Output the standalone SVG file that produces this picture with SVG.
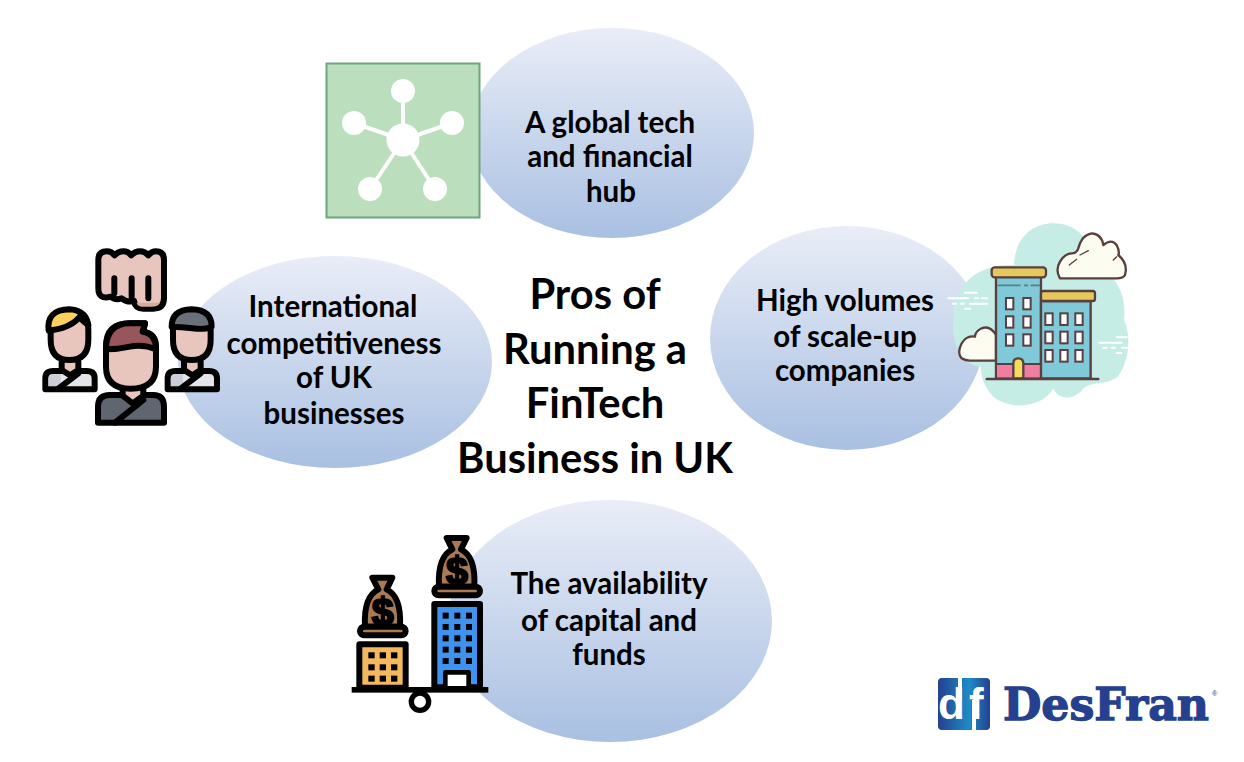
<svg xmlns="http://www.w3.org/2000/svg" width="1244" height="762" viewBox="0 0 1244 762">
<style>
.e{fill:url(#g)}
.t{font-family:"Lato","Carlito","Open Sans",sans-serif;font-weight:700;font-size:29.5px;fill:#000;text-anchor:middle}
.h{font-size:41.7px}
.k{stroke:#000;stroke-width:18;stroke-linejoin:round;stroke-linecap:round}
.n{fill:none}
.b{stroke:#5a3f3f;stroke-width:7;stroke-linejoin:round;stroke-linecap:round}
.w{fill:#fff;stroke:#5a3f3f;stroke-width:6}
.d{stroke:#fff;stroke-width:6;stroke-linecap:round;fill:none}
.sk{fill:#e8c6bd}
.m{fill:#000}
.bag{fill:#a97a55}
.usd{font-family:"Liberation Sans",sans-serif;font-weight:700;font-size:118px;fill:#000;stroke:#000;stroke-width:6;text-anchor:middle}
</style>
<defs>
<linearGradient id="g" x1="0" y1="0" x2="0" y2="1"><stop offset="0" stop-color="#e9edf7"/><stop offset="1" stop-color="#a9c0e2"/></linearGradient>
<linearGradient id="lg" x1="0" y1="0" x2="1" y2="0"><stop offset="0" stop-color="#25408f"/><stop offset="0.6" stop-color="#1d8cc8"/><stop offset="1" stop-color="#25408f"/></linearGradient>
<g id="person">
<path class="k" fill="#e3e5ea" d="M76 478V445Q76 423 100 423H200Q224 423 224 445V478Z"/>
<path fill="#c9ced7" d="M86 468V445Q86 433 100 433H122V468Z"/>
<path class="sk" d="M125 395H175V420L150 436L125 420Z"/>
<path class="k n" d="M125 395V420L150 436L175 420V395M115 476L175 430"/>
<path class="sk k" d="M92 300Q92 240 148 240Q205 240 205 300V330Q205 390 148 390Q92 390 92 330Z"/>
</g>
</defs>

<g id="connectors"></g>

<g id="node-top">
<ellipse class="e" cx="612" cy="133" rx="142" ry="105"/>
<rect x="326.500" y="63.500" width="153" height="154" fill="#bbdebc" stroke="#6fa67f" stroke-width="2"/>
<g stroke="#fff" stroke-width="4"><path d="M403 140V91M403 140L354 123M403 140L452 123M403 140L370 189M403 140L435 189"/></g>
<g fill="#fff"><circle cx="403" cy="140" r="16.500"/><circle cx="403" cy="91" r="12"/><circle cx="354" cy="123" r="12"/><circle cx="452" cy="123" r="12"/><circle cx="370" cy="189" r="12"/><circle cx="435" cy="189" r="12"/></g>
<text class="t" x="610" y="133">A global tech</text>
<text class="t" x="610" y="167">and financial</text>
<text class="t" x="611" y="202">hub</text>
</g>

<g id="node-left">
<ellipse class="e" cx="335" cy="362" rx="157" ry="106"/>
<g transform="translate(20 230) scale(.3333)">
<path class="sk k" d="M235 90Q235 64 260 64Q275 64 284 76Q295 64 310 64Q325 64 334 76Q345 64 360 64Q375 64 385 76Q395 64 408 64Q432 64 432 90V205Q432 236 400 236H370Q345 236 342 212Q325 220 305 205Q285 212 272 200Q235 210 235 175Z"/>
<path class="k n" d="M283 145V190M335 145V200M385 145V205"/>
<path fill="#d9a8a0" d="M350 218H420Q415 230 395 230H365Q352 228 350 218Z"/>
<use href="#person"/>
<path class="k" fill="#fdd25c" d="M86 302Q78 240 148 238Q195 240 205 285Q190 275 178 262Q150 295 86 302Z"/>
<g transform="translate(367 0)"><use href="#person"/>
<path class="k" fill="#6a7079" d="M88 290Q88 240 148 238Q208 240 208 290Q190 300 150 295Q115 290 88 290Z"/></g>
<path class="k" fill="#5f6670" d="M234 578V530Q234 495 270 495H400Q432 495 432 530V578Z"/>
<path class="sk" d="M308 470H370V500L338 520L308 500Z"/>
<path class="k n" d="M308 470V497L338 520L370 497V470M285 578L370 510"/>
<path class="sk k" d="M258 350Q258 280 330 280H375L370 305Q408 310 408 350V410Q408 476 332 476Q258 476 258 410Z"/>
<path class="k" fill="#97565a" d="M258 358Q258 280 330 280H375L368 305Q408 310 408 358Q370 342 330 350Q295 358 258 358Z"/>
</g>
<text class="t" x="333" y="317">International</text>
<text class="t" x="334" y="354">competitiveness</text>
<text class="t" x="334" y="388">of UK</text>
<text class="t" x="334" y="424">businesses</text>
</g>

<g id="node-right">
<ellipse class="e" cx="847" cy="338" rx="137" ry="112"/>
<g transform="translate(940 220) scale(.3333)">
<path fill="#c5ede5" d="M222 135C225 50 280 10 340 10C410 10 455 60 465 135C535 170 560 230 552 300C572 340 572 420 532 472C490 500 450 480 425 512C390 545 350 535 340 505C310 560 220 575 160 530C130 500 125 470 122 442C55 430 28 350 42 280C40 220 90 130 222 135Z"/>
<path class="d" d="M75 218H110M25 235H85M105 235H115M125 235H142M38 251H48M62 251H72M90 251H142M75 266H90M530 352H560M478 368H545M490 383H500M515 383H525M545 383H562M530 399H545"/>
<path class="b" fill="#fdfcf0" d="M360 175Q345 150 360 125Q375 100 395 100Q410 100 415 85Q425 45 455 40Q485 42 490 75Q515 55 530 75Q540 95 535 105Q565 130 555 165Q550 175 530 175Z"/>
<path class="b n" style="stroke-width:4" d="M388 135L410 118M420 105L445 92M520 120L530 110"/>
<path class="b" fill="#fdfcf0" d="M168 345Q150 315 125 325Q105 335 105 350Q80 345 65 370Q50 400 65 415Q75 422 90 422H168Z"/>
<rect class="b" x="168" y="170" width="135" height="305" fill="#7fc9d8"/>
<rect x="172" y="432" width="128" height="40" fill="#ef7fa0"/>
<path stroke="#5a3f3f" stroke-width="6" d="M170 432H300"/>
<path stroke="#5a7f88" stroke-width="5" stroke-dasharray="70 10 12 8" fill="none" d="M172 196H300"/>
<rect class="b" x="303" y="243" width="149" height="232" fill="#7fc9d8"/>
<rect class="b" x="155" y="142" width="163" height="30" rx="9" fill="#e6c95b"/>
<rect class="b" x="303" y="213" width="162" height="30" rx="7" fill="#e6c95b"/>
<g class="wins">
<rect class="w" x="198" y="234" width="22" height="34"/><rect class="w" x="250" y="234" width="22" height="34"/>
<rect class="w" x="198" y="289" width="22" height="34"/><rect class="w" x="250" y="289" width="22" height="34"/>
<rect class="w" x="198" y="343" width="22" height="34"/><rect class="w" x="250" y="343" width="22" height="34"/>
<rect class="w" x="316" y="280" width="22" height="35"/><rect class="w" x="361" y="280" width="22" height="35"/><rect class="w" x="406" y="280" width="22" height="35"/>
<rect class="w" x="316" y="335" width="22" height="35"/><rect class="w" x="361" y="335" width="22" height="35"/><rect class="w" x="406" y="335" width="22" height="35"/>
<rect class="w" x="316" y="390" width="22" height="35"/><rect class="w" x="361" y="390" width="22" height="35"/><rect class="w" x="406" y="390" width="22" height="35"/>
</g>
<path class="b" fill="#f4db5b" d="M220 475V430Q220 415 235 415Q250 415 250 430V475Z"/>
<path class="b n" d="M140 477H475"/>
</g>
<text class="t" x="845" y="311">High volumes</text>
<text class="t" x="845" y="347">of scale-up</text>
<text class="t" x="845" y="381">companies</text>
</g>

<g id="node-bottom">
<ellipse class="e" cx="610" cy="621" rx="162" ry="121"/>
<g transform="translate(340 530) scale(.3333)">
<rect class="k" x="58" y="343" width="139" height="130" fill="#f4b95e"/>
<g class="m"><rect x="85" y="367" width="19" height="18"/><rect x="119" y="367" width="19" height="18"/><rect x="153" y="367" width="19" height="18"/><rect x="85" y="403" width="19" height="18"/><rect x="119" y="403" width="19" height="18"/><rect x="153" y="403" width="19" height="18"/><rect x="85" y="437" width="19" height="18"/><rect x="119" y="437" width="19" height="18"/><rect x="153" y="437" width="19" height="18"/></g>
<rect class="k" x="283" y="222" width="137" height="250" fill="#3f93ee"/>
<g class="m"><rect x="308" y="248" width="18" height="18"/><rect x="343" y="248" width="18" height="18"/><rect x="378" y="248" width="18" height="18"/><rect x="308" y="282" width="18" height="18"/><rect x="343" y="282" width="18" height="18"/><rect x="378" y="282" width="18" height="18"/><rect x="308" y="316" width="18" height="18"/><rect x="343" y="316" width="18" height="18"/><rect x="378" y="316" width="18" height="18"/><rect x="308" y="350" width="18" height="18"/><rect x="343" y="350" width="18" height="18"/><rect x="378" y="350" width="18" height="18"/><rect x="308" y="384" width="18" height="18"/><rect x="343" y="384" width="18" height="18"/><rect x="378" y="384" width="18" height="18"/></g>
<rect class="k" style="stroke-width:14" x="316" y="427" width="70" height="48" fill="#fff"/>
<path class="bag k" d="M97 143H157L140 178Q185 200 180 290H75Q70 200 115 178Z"/>
<rect class="bag k" x="60" y="290" width="137" height="26" rx="13"/>
<path class="bag k" d="M320 24H380L363 58Q408 80 403 170H297Q292 80 337 58Z"/>
<rect class="bag k" x="283" y="170" width="137" height="26" rx="13"/>
<text class="usd" x="128" y="285">$</text>
<text class="usd" x="351" y="163">$</text>
<rect x="35" y="471" width="410" height="17"/>
<circle cx="240" cy="515" r="26" fill="#fff" stroke="#000" stroke-width="16"/>
</g>
<text class="t" x="609" y="594">The availability</text>
<text class="t" x="609" y="631">of capital and</text>
<text class="t" x="609" y="665">funds</text>
</g>

<g id="title">
<text class="t h" x="595" y="309">Pros of</text>
<text class="t h" x="595" y="364">Running a</text>
<text class="t h" x="595" y="418">FinTech</text>
<text class="t h" x="595" y="473">Business in UK</text>
</g>

<g id="logo">
<rect x="938" y="678" width="52" height="52" rx="4" fill="url(#lg)"/>
<rect x="958" y="678" width="4" height="22" fill="#fff"/>
<rect x="972" y="700" width="4" height="30" fill="#fff"/>
<text y="719" font-family="'Liberation Sans',sans-serif" font-weight="700" font-size="44" fill="#fff"><tspan x="938">d</tspan><tspan x="969">f</tspan></text>
<text x="1003" y="720" font-family="'DejaVu Serif',serif" font-weight="700" font-size="45" fill="#25408f" stroke="#25408f" stroke-width="1.300" textLength="206" lengthAdjust="spacingAndGlyphs">DesFran</text>
<text x="1212" y="696" font-family="'Liberation Sans',sans-serif" font-size="7" fill="#25408f">®</text>
</g>
</svg>
